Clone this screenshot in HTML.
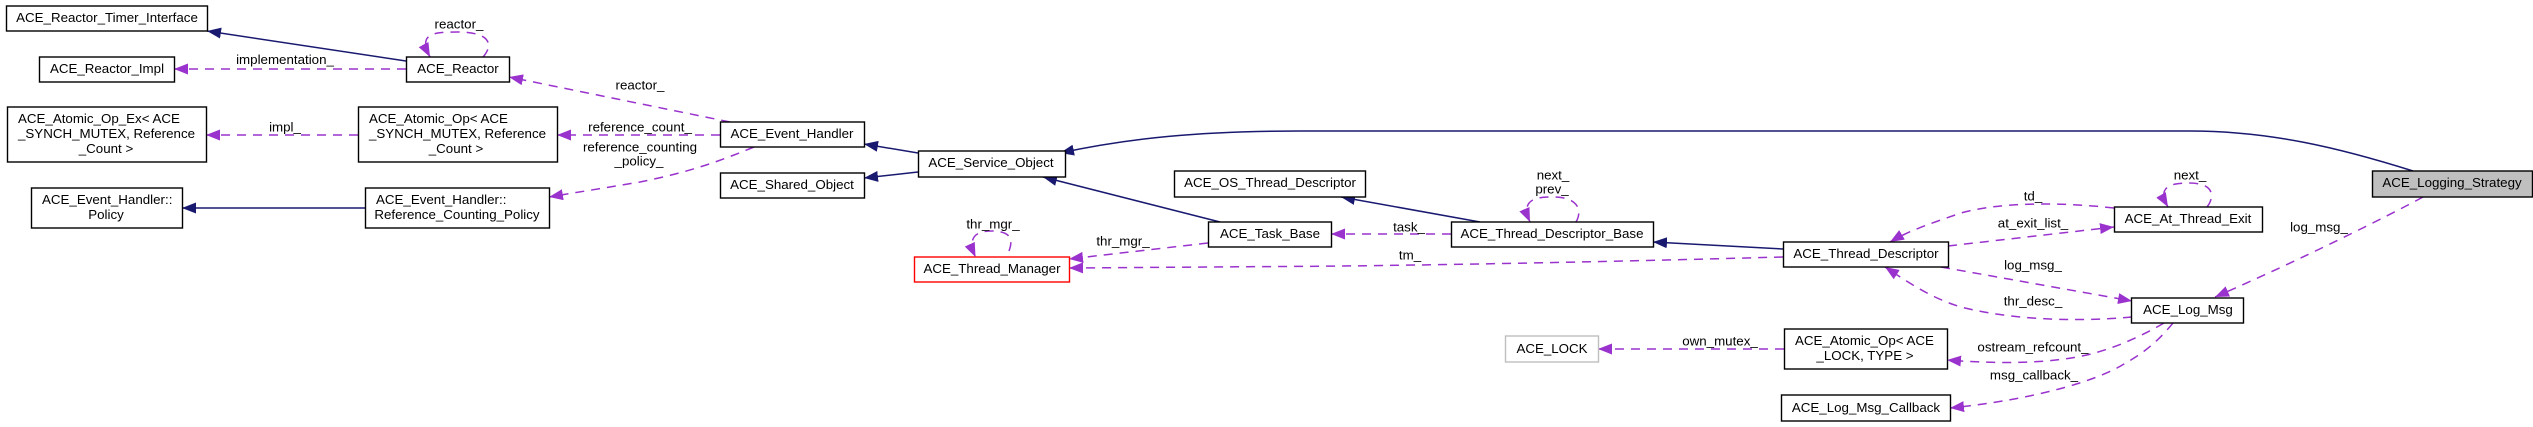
<!DOCTYPE html>
<html>
<head>
<meta charset="utf-8">
<style>
html,body{margin:0;padding:0;background:#fff;width:2533px;height:427px;overflow:hidden}
svg{display:block}
text{font-family:"Liberation Sans",sans-serif;font-size:13.33px;fill:#000;text-anchor:middle}
text.l{text-anchor:start}
.b{fill:#fff;stroke:#000;stroke-width:1.4}
.n{fill:none;stroke:#191970;stroke-width:1.5;marker-end:url(#na)}
.p{fill:none;stroke:#9a32cd;stroke-width:1.5;stroke-dasharray:9,7;marker-end:url(#pa)}
</style>
</head>
<body>
<svg width="2533" height="427" viewBox="0 0 2533 427" xmlns="http://www.w3.org/2000/svg">
<defs>
<marker id="na" markerUnits="userSpaceOnUse" markerWidth="15" markerHeight="13" refX="14" refY="5.500" orient="auto"><path d="M0,0L14,5.500L0,11Z" fill="#191970"/></marker>
<marker id="pa" markerUnits="userSpaceOnUse" markerWidth="15" markerHeight="13" refX="14" refY="5.500" orient="auto"><path d="M0,0L14,5.500L0,11Z" fill="#9a32cd"/></marker>
</defs>

<!-- inheritance edges -->
<path class="n" d="M406,61L207,31"/>
<path class="n" d="M365,208L182,208"/>
<path class="n" d="M918,153L864,144"/>
<path class="n" d="M918,172L864,178"/>
<path class="n" d="M2413,171C2340,148 2270,131 2190,131L1300,131C1200,131 1130,138 1060,153"/>
<path class="n" d="M1220,222L1043,177"/>
<path class="n" d="M1480,222L1341,197"/>
<path class="n" d="M1783,249L1653,242"/>

<!-- member edges -->
<path class="p" d="M406,69L174,69"/>
<path class="p" d="M483,57C492,47 494,32 457,32C432,32 418,34 430,57"/>
<path class="p" d="M730,122L509,77"/>
<path class="p" d="M720,135L557,135"/>
<path class="p" d="M754,147C720,161 690,172 640,182L549,197"/>
<path class="p" d="M358,135L206,135"/>
<path class="p" d="M1208,243L1069,259"/>
<path class="p" d="M1009,251C1013,240 1012,231 991,231C978,231 966,236 975.500,257"/>
<path class="p" d="M1783,257C1600,262 1400,266 1280,266.500L1069,268"/>
<path class="p" d="M1451,234L1331,234"/>
<path class="p" d="M1576,222C1582,212 1580,197 1553,197C1536,197 1520,199 1530,222"/>
<path class="p" d="M1948,246L2114,227"/>
<path class="p" d="M2114,208C2060,202 2000,202 1961,213C1935,222 1910,230 1890,242"/>
<path class="p" d="M2207,207C2214,198 2216,183 2189,183C2172,183 2156,186 2168,207"/>
<path class="p" d="M1941,267L2132,301"/>
<path class="p" d="M2132,317C2090,321 2020,322 1961,307C1930,298 1905,280 1885,267"/>
<path class="p" d="M2164,323C2135,340 2110,349 2091,354C2050,364 2000,364 1947,360"/>
<path class="p" d="M2173,323C2155,345 2140,355 2124,364C2095,382 2030,400 1950,408"/>
<path class="p" d="M1784,349L1598,349"/>
<path class="p" d="M2423,197C2390,215 2300,260 2215,297"/>

<!-- nodes -->
<rect class="b" x="6.500" y="6" width="201" height="25"/>
<text x="107" y="22">ACE_Reactor_Timer_Interface</text>
<rect class="b" x="39.500" y="57" width="135" height="25"/>
<text x="107" y="73">ACE_Reactor_Impl</text>
<rect class="b" x="406.500" y="57" width="103" height="25"/>
<text x="458" y="73">ACE_Reactor</text>
<rect class="b" x="7.500" y="107" width="199" height="55"/>
<text class="l" x="18" y="123">ACE_Atomic_Op_Ex&lt; ACE</text>
<text class="l" x="18" y="138">_SYNCH_MUTEX, Reference</text>
<text x="106" y="153">_Count &gt;</text>
<rect class="b" x="358.500" y="107" width="199" height="55"/>
<text class="l" x="369" y="123">ACE_Atomic_Op&lt; ACE</text>
<text class="l" x="369" y="138">_SYNCH_MUTEX, Reference</text>
<text x="456" y="153">_Count &gt;</text>
<rect class="b" x="31.500" y="188" width="151" height="40"/>
<text class="l" x="42" y="204">ACE_Event_Handler::</text>
<text x="106" y="219">Policy</text>
<rect class="b" x="365.500" y="188" width="184" height="40"/>
<text class="l" x="376" y="204">ACE_Event_Handler::</text>
<text x="457" y="219">Reference_Counting_Policy</text>
<rect class="b" x="720.500" y="122" width="144" height="25"/>
<text x="792" y="138">ACE_Event_Handler</text>
<rect class="b" x="720.500" y="173" width="144" height="25"/>
<text x="792" y="189">ACE_Shared_Object</text>
<rect class="b" x="918.500" y="151" width="147" height="26"/>
<text x="991" y="167">ACE_Service_Object</text>
<rect class="b" x="1174.500" y="171" width="191" height="26"/>
<text x="1270" y="187">ACE_OS_Thread_Descriptor</text>
<rect class="b" x="1208.500" y="222" width="123" height="25"/>
<text x="1270" y="238">ACE_Task_Base</text>
<rect x="914.500" y="257" width="155" height="25" fill="#fff" stroke="#f00" stroke-width="1.4"/>
<text x="992" y="273">ACE_Thread_Manager</text>
<rect class="b" x="1451.500" y="222" width="202" height="25"/>
<text x="1552" y="238">ACE_Thread_Descriptor_Base</text>
<rect class="b" x="1783.500" y="242" width="165" height="25"/>
<text x="1866" y="258">ACE_Thread_Descriptor</text>
<rect x="1505.500" y="336" width="93" height="26" fill="#fff" stroke="#bfbfbf" stroke-width="1.4"/>
<text x="1552" y="353">ACE_LOCK</text>
<rect class="b" x="1784.500" y="329" width="163" height="40"/>
<text class="l" x="1795" y="345">ACE_Atomic_Op&lt; ACE</text>
<text x="1865" y="360">_LOCK, TYPE &gt;</text>
<rect class="b" x="1781.500" y="395" width="169" height="26"/>
<text x="1866" y="412">ACE_Log_Msg_Callback</text>
<rect class="b" x="2114.500" y="207" width="148" height="25"/>
<text x="2188" y="223">ACE_At_Thread_Exit</text>
<rect class="b" x="2131.500" y="298" width="112" height="25"/>
<text x="2188" y="314">ACE_Log_Msg</text>
<rect x="2372.500" y="171" width="160" height="26" fill="#bfbfbf" stroke="#000" stroke-width="1.4"/>
<text x="2452" y="187">ACE_Logging_Strategy</text>

<!-- edge labels -->
<text x="285" y="64">implementation_</text>
<text x="459" y="28.500">reactor_</text>
<text x="640" y="89.500">reactor_</text>
<text x="640" y="131.500">reference_count_</text>
<text x="640" y="151.500">reference_counting</text>
<text x="639" y="165.500">_policy_</text>
<text x="285" y="131.500">impl_</text>
<text x="993" y="228.500">thr_mgr_</text>
<text x="1123" y="245.500">thr_mgr_</text>
<text x="1409" y="231.500">task_</text>
<text x="1410" y="259.500">tm_</text>
<text x="1553" y="179.500">next_</text>
<text x="1552" y="193.500">prev_</text>
<text x="1720" y="345.500">own_mutex_</text>
<text x="2033" y="200.500">td_</text>
<text x="2190" y="179.500">next_</text>
<text x="2033" y="227.500">at_exit_list_</text>
<text x="2033" y="269.500">log_msg_</text>
<text x="2033" y="305.500">thr_desc_</text>
<text x="2033" y="351.500">ostream_refcount_</text>
<text x="2034" y="379.500">msg_callback_</text>
<text x="2319" y="231.500">log_msg_</text>
</svg>
</body>
</html>
